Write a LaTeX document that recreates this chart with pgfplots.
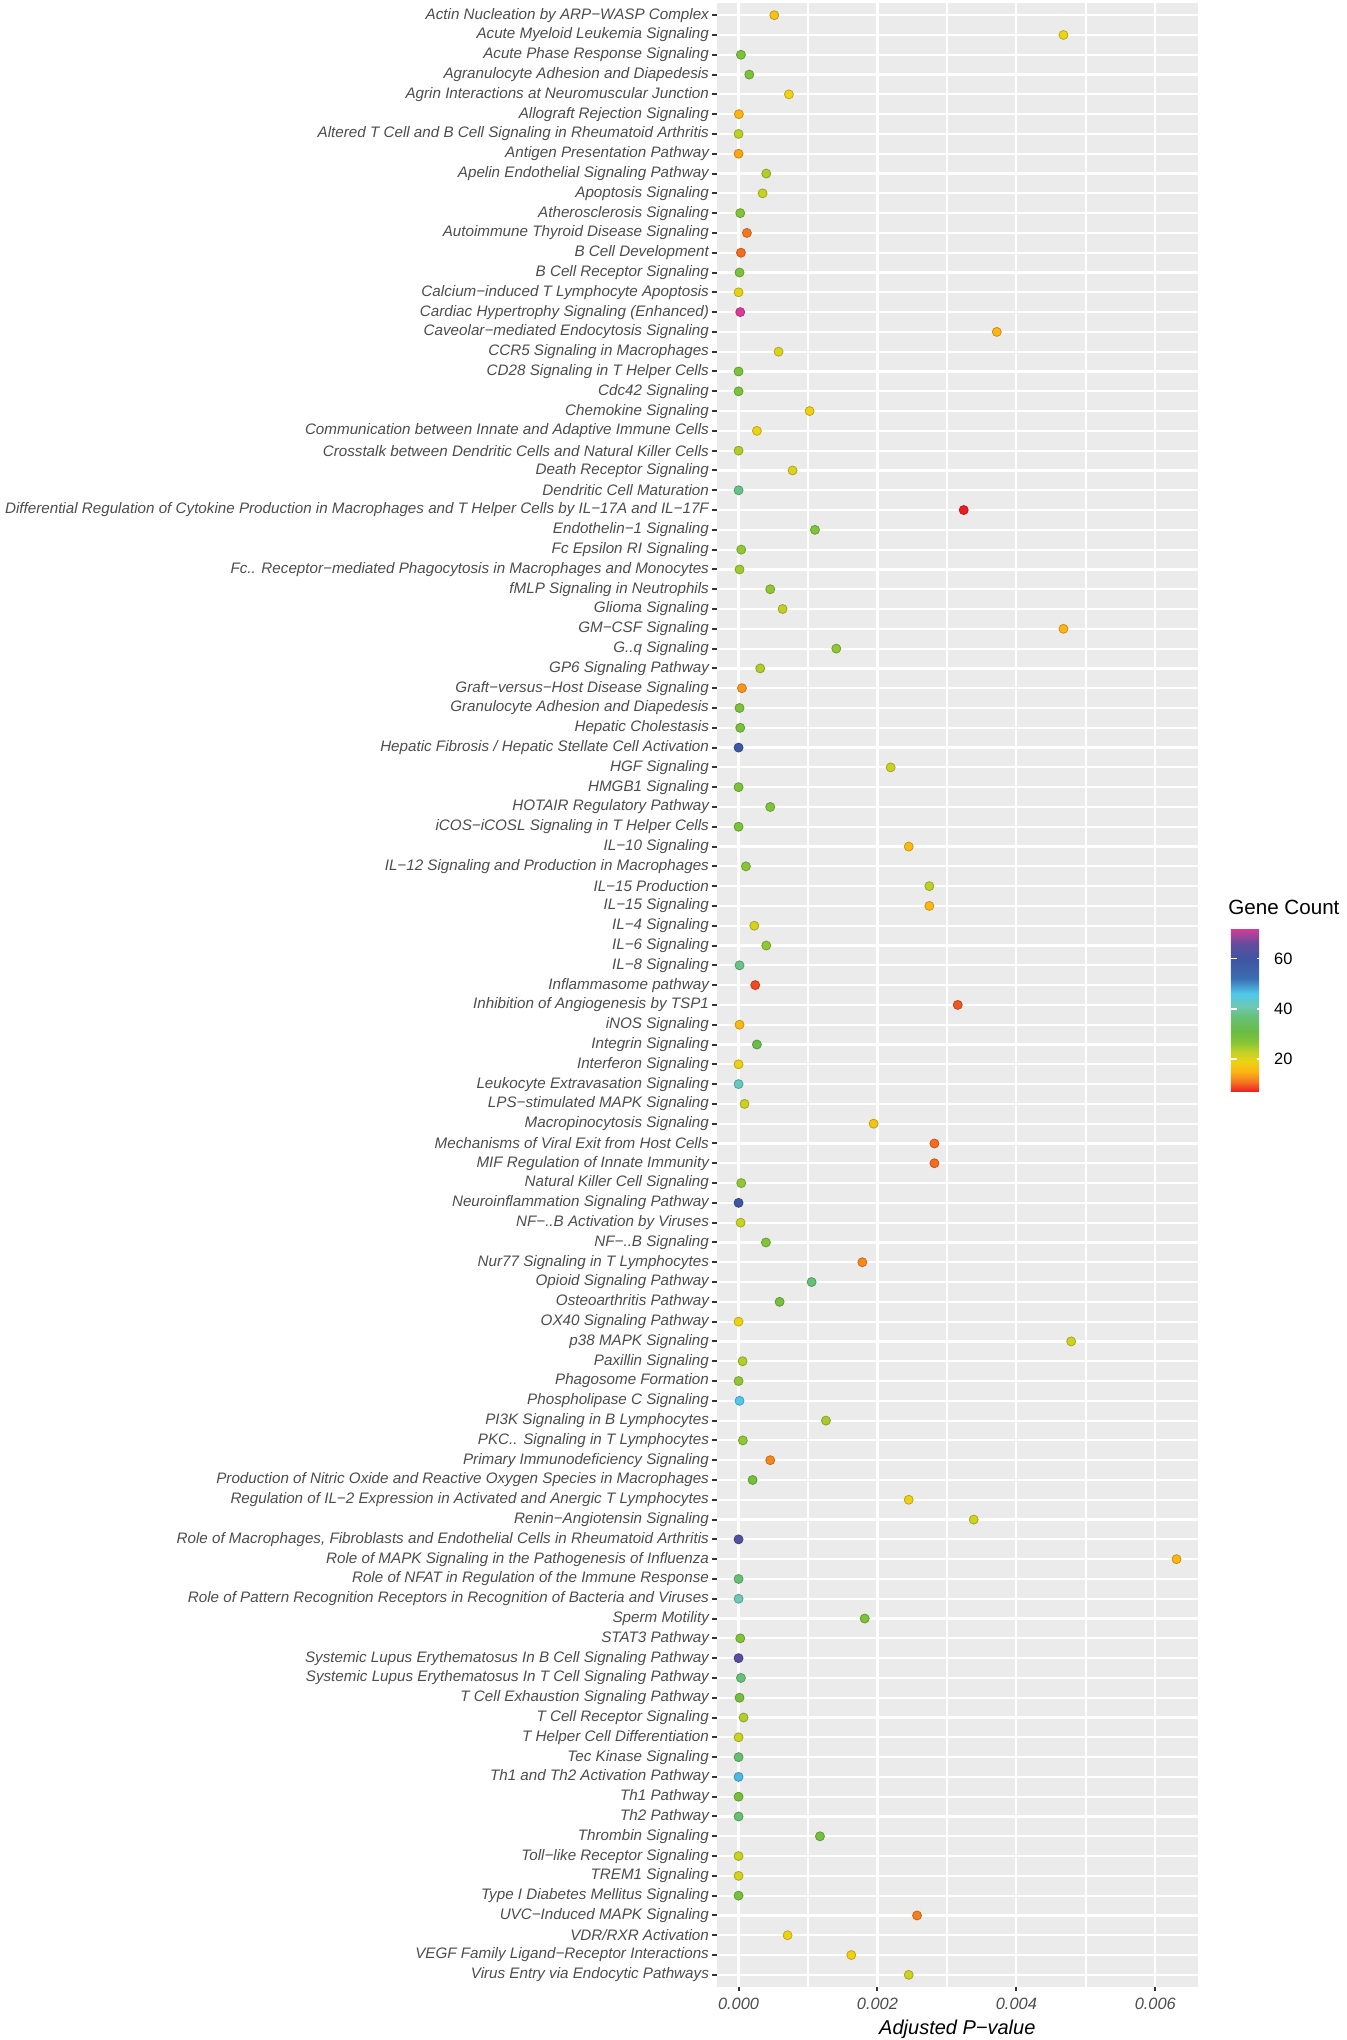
\documentclass[border=0pt]{standalone}
\usepackage{pgfplots}
\pgfplotsset{compat=1.18}
\usepackage{fontspec}
\setmainfont{Liberation Sans}
\definecolor{panelbg}{HTML}{EBEBEB}
\definecolor{gray30}{HTML}{4D4D4D}
\definecolor{gray20}{HTML}{333333}

% gene count colour scale, positions are gene counts
\pgfplotsset{colormap={genecount}{
  rgb255(7pt)=(237,28,36); rgb255(11pt)=(245,120,32); rgb255(15pt)=(253,180,20);
  rgb255(19pt)=(236,212,20); rgb255(23pt)=(190,208,40); rgb255(27pt)=(130,196,56);
  rgb255(31pt)=(106,188,69); rgb255(37pt)=(104,192,120); rgb255(41pt)=(110,200,180);
  rgb255(46pt)=(80,200,235); rgb255(52pt)=(60,110,180); rgb255(60pt)=(64,84,160);
  rgb255(66pt)=(100,76,158); rgb255(72pt)=(216,60,150)}}

\begin{document}
\begin{tikzpicture}
\begin{axis}[
  scale only axis, width=240.65pt, height=991.7pt,
  xmin=-0.000315, xmax=0.006615,
  ymin=0.4, ymax=100.6, y dir=reverse,
  axis background/.style={fill=panelbg},
  axis line style={draw=none},
  scaled x ticks=false,
  xtick={0,0.002,0.004,0.006},
  xticklabels={0.000,0.002,0.004,0.006},
  minor xtick={0.001,0.003,0.005},
  ytick={1,...,100},
  yticklabels={
    Actin Nucleation by ARP−WASP Complex,
    Acute Myeloid Leukemia Signaling,
    Acute Phase Response Signaling,
    Agranulocyte Adhesion and Diapedesis,
    Agrin Interactions at Neuromuscular Junction,
    Allograft Rejection Signaling,
    Altered T Cell and B Cell Signaling in Rheumatoid Arthritis,
    Antigen Presentation Pathway,
    Apelin Endothelial Signaling Pathway,
    Apoptosis Signaling,
    Atherosclerosis Signaling,
    Autoimmune Thyroid Disease Signaling,
    B Cell Development,
    B Cell Receptor Signaling,
    Calcium−induced T Lymphocyte Apoptosis,
    Cardiac Hypertrophy Signaling (Enhanced),
    Caveolar−mediated Endocytosis Signaling,
    CCR5 Signaling in Macrophages,
    CD28 Signaling in T Helper Cells,
    Cdc42 Signaling,
    Chemokine Signaling,
    Communication between Innate and Adaptive Immune Cells,
    Crosstalk between Dendritic Cells and Natural Killer Cells,
    Death Receptor Signaling,
    Dendritic Cell Maturation,
    Differential Regulation of Cytokine Production in Macrophages and T Helper Cells by IL−17A and IL−17F,
    Endothelin−1 Signaling,
    Fc Epsilon RI Signaling,
    Fc.. Receptor−mediated Phagocytosis in Macrophages and Monocytes,
    fMLP Signaling in Neutrophils,
    Glioma Signaling,
    GM−CSF Signaling,
    G..q Signaling,
    GP6 Signaling Pathway,
    Graft−versus−Host Disease Signaling,
    Granulocyte Adhesion and Diapedesis,
    Hepatic Cholestasis,
    Hepatic Fibrosis / Hepatic Stellate Cell Activation,
    HGF Signaling,
    HMGB1 Signaling,
    HOTAIR Regulatory Pathway,
    iCOS−iCOSL Signaling in T Helper Cells,
    IL−10 Signaling,
    IL−12 Signaling and Production in Macrophages,
    IL−15 Production,
    IL−15 Signaling,
    IL−4 Signaling,
    IL−6 Signaling,
    IL−8 Signaling,
    Inflammasome pathway,
    Inhibition of Angiogenesis by TSP1,
    iNOS Signaling,
    Integrin Signaling,
    Interferon Signaling,
    Leukocyte Extravasation Signaling,
    LPS−stimulated MAPK Signaling,
    Macropinocytosis Signaling,
    Mechanisms of Viral Exit from Host Cells,
    MIF Regulation of Innate Immunity,
    Natural Killer Cell Signaling,
    Neuroinflammation Signaling Pathway,
    NF−..B Activation by Viruses,
    NF−..B Signaling,
    Nur77 Signaling in T Lymphocytes,
    Opioid Signaling Pathway,
    Osteoarthritis Pathway,
    OX40 Signaling Pathway,
    p38 MAPK Signaling,
    Paxillin Signaling,
    Phagosome Formation,
    Phospholipase C Signaling,
    PI3K Signaling in B Lymphocytes,
    PKC.. Signaling in T Lymphocytes,
    Primary Immunodeficiency Signaling,
    Production of Nitric Oxide and Reactive Oxygen Species in Macrophages,
    Regulation of IL−2 Expression in Activated and Anergic T Lymphocytes,
    Renin−Angiotensin Signaling,
    {Role of Macrophages, Fibroblasts and Endothelial Cells in Rheumatoid Arthritis},
    Role of MAPK Signaling in the Pathogenesis of Influenza,
    Role of NFAT in Regulation of the Immune Response,
    Role of Pattern Recognition Receptors in Recognition of Bacteria and Viruses,
    Sperm Motility,
    STAT3 Pathway,
    Systemic Lupus Erythematosus In B Cell Signaling Pathway,
    Systemic Lupus Erythematosus In T Cell Signaling Pathway,
    T Cell Exhaustion Signaling Pathway,
    T Cell Receptor Signaling,
    T Helper Cell Differentiation,
    Tec Kinase Signaling,
    Th1 and Th2 Activation Pathway,
    Th1 Pathway,
    Th2 Pathway,
    Thrombin Signaling,
    Toll−like Receptor Signaling,
    TREM1 Signaling,
    Type I Diabetes Mellitus Signaling,
    UVC−Induced MAPK Signaling,
    VDR/RXR Activation,
    VEGF Family Ligand−Receptor Interactions,
    Virus Entry via Endocytic Pathways},
  xmajorgrids, ymajorgrids, xminorgrids,
  major grid style={white, line width=1.1pt},
  minor grid style={white, line width=0.7pt},
  tick align=outside, major tick length=2.2pt, minor tick length=0pt,
  tick style={gray20, line width=1pt},
  xtick pos=bottom, ytick pos=left,
  yticklabel style={font=\fontsize{7.6}{9}\selectfont\itshape, text=gray30, inner sep=1.5pt},
  xticklabel style={font=\fontsize{8.2}{10}\selectfont\itshape, text=gray30},
  xlabel={Adjusted P−value},
  xlabel style={font=\fontsize{10}{12}\selectfont\itshape, yshift=2pt},
  colormap name=genecount,
  point meta min=7, point meta max=72,
  colorbar,
  colorbar style={
    at={(parent axis.south east)}, anchor=south west,
    xshift=7.85pt, yshift=447.5pt,
    scale only axis, width=16.2pt, height=81.7pt,
    y dir=normal, ymin=7, ymax=72,
    ytick={20,40,60}, yticklabels={20,40,60},
    minor xtick={}, minor ytick={},
    xmajorgrids=false, ymajorgrids=false, xminorgrids=false,
    xtick=\empty, xlabel={},
    axis line style={draw=none},
    axis on top,
    tick align=inside, major tick length=3.3pt,
    ytick style={white, line width=0.8pt},
    ytick pos=both, yticklabel pos=right,
    yticklabel style={font=\fontsize{8.2}{10}\selectfont, text=black, xshift=2pt},
    axis background/.style={},
  },
]
\addplot[scatter, only marks, mark=*, mark size=2.25pt, scatter src=explicit]
  table[x=p, y=i, meta=g] {
i p g
1 0.000514 17
2 0.004678 19
3 0.000034 28
4 0.000154 28
5 0.000725 19
6 0.000005 15
7 0.000000 23
8 0.000000 14
9 0.000399 24
10 0.000346 22
11 0.000024 27
12 0.000120 11
13 0.000034 10.5
14 0.000014 28
15 0.000000 19.5
16 0.000024 72
17 0.003718 15
18 0.000576 20.5
19 0.000000 28
20 0.000000 28
21 0.001023 18.5
22 0.000264 19
23 0.000000 24
24 0.000778 20.5
25 0.000000 38
26 0.003242 7
27 0.001100 27
28 0.000038 26
29 0.000014 25
30 0.000456 26
31 0.000634 23
32 0.004678 15
33 0.001407 26
34 0.000312 24
35 0.000048 13
36 0.000014 28
37 0.000024 28.5
38 0.000000 58
39 0.002190 22
40 0.000000 28
41 0.000456 27
42 0.000000 28
43 0.002450 16
44 0.000106 26.5
45 0.002747 23
46 0.002747 15.5
47 0.000226 21
48 0.000399 26
49 0.000014 38
50 0.000240 9
51 0.003156 9.5
52 0.000014 15.5
53 0.000264 32
54 0.000000 18.5
55 0.000000 42
56 0.000086 22
57 0.001945 17
58 0.002820 10.5
59 0.002820 10.5
60 0.000038 26
61 0.000000 59
62 0.000029 22
63 0.000394 27
64 0.001782 12
65 0.001052 37
66 0.000591 29
67 0.000000 19
68 0.004789 21.5
69 0.000058 24
70 0.000000 26
71 0.000014 46
72 0.001258 24.5
73 0.000062 26
74 0.000456 12
75 0.000202 29
76 0.002450 18.5
77 0.003386 21.5
78 0.000000 63
79 0.006306 15
80 0.000000 37
81 0.000000 41
82 0.001816 28
83 0.000024 27
84 0.000000 64
85 0.000034 37
86 0.000014 29
87 0.000072 24
88 0.000000 22
89 0.000000 36
90 0.000000 47
91 0.000000 29
92 0.000000 36
93 0.001172 29
94 0.000000 22
95 0.000000 21
96 0.000000 29
97 0.002570 11.5
98 0.000706 19
99 0.001623 18.5
100 0.002450 21.5
};
\end{axis}
\node[anchor=base west, inner sep=0pt, font=\fontsize{10.3}{12}\selectfont] at (255.65pt,535.85pt) {Gene Count};
\pgfresetboundingbox
\useasboundingbox (-358.35pt,-26.65pt) rectangle (314.65pt,993.35pt);
\end{tikzpicture}
\end{document}
